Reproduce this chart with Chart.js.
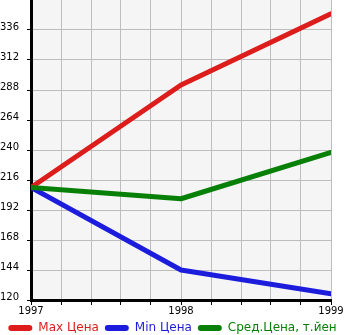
<!DOCTYPE html>
<html>
<head>
<meta charset="utf-8">
<title>Цены</title>
<script src="https://cdn.jsdelivr.net/npm/chart.js@4/dist/chart.umd.min.js"></script>
<style>
  html, body { margin: 0; padding: 0; background: #fff; overflow: hidden; }
  canvas { display: block; }
</style>
</head>
<body>
<canvas id="priceChart" width="345" height="335"></canvas>
<script>
// years on the x axis and price series (тыс. йен)
const years = [1997, 1998, 1999];
const maxPrice = [210, 292, 349];
const minPrice = [210, 144, 125];
const avgPrice = [210, 201, 238];
const seriesLabels = ["Max Цена", "Min Цена", "Сред.Цена, т.йен"];
const seriesColors = ["#dd1c1c", "#1c1cdd", "#088008"];

const yMin = 120, yMax = 360, yStep = 24;

function points(values) {
  return years.map((y, i) => ({ x: y, y: values[i] }));
}

// grey plot background
const plotBg = {
  id: "plotBg",
  beforeDraw(chart) {
    const a = chart.chartArea, ctx = chart.ctx;
    ctx.save();
    ctx.fillStyle = "#f5f5f5";
    ctx.fillRect(a.left, a.top, a.right - a.left, a.bottom - a.top);
    ctx.restore();
  }
};

const font = { family: "'DejaVu Sans', sans-serif", size: 10 };

function lineSet(i, values, order) {
  return {
    label: seriesLabels[i],
    data: points(values),
    borderColor: seriesColors[i],
    backgroundColor: seriesColors[i],
    borderWidth: 5,
    borderCapStyle: "round",
    borderJoinStyle: "round",
    pointRadius: 0,
    tension: 0,
    fill: false,
    order: order
  };
}

new Chart(document.getElementById("priceChart"), {
  type: "line",
  data: {
    datasets: [
      lineSet(0, maxPrice, 2),
      lineSet(1, minPrice, 1),
      lineSet(2, avgPrice, 0)
    ]
  },
  options: {
    responsive: false,
    animation: false,
    layout: { padding: { left: 0, top: 0, right: 0, bottom: -9 } },
    scales: {
      x: {
        type: "linear",
        min: years[0],
        max: years[years.length - 1],
        afterBuildTicks(scale) {
          // ten grid steps between the first and last year
          const t = [];
          for (let k = 0; k <= 10; k++) t.push({ value: years[0] + k * (years[years.length - 1] - years[0]) / 10 });
          scale.ticks = t;
        },
        ticks: {
          font: font,
          color: "#000",
          padding: 0,
          maxRotation: 0,
          autoSkip: false,
          callback(v) {
            const r = Math.round(v);
            return Math.abs(v - r) < 1e-6 ? String(r) : "";
          }
        },
        grid: { color: "#bdbdbd", lineWidth: 1, tickLength: 5, tickColor: "#000" },
        border: { color: "#000", width: 3 },
        afterFit(scale) {
          scale.height = 16;
          scale.paddingLeft = 0;
          scale.paddingRight = 14;
        }
      },
      y: {
        min: yMin,
        max: yMax,
        ticks: {
          stepSize: yStep,
          font: font,
          color: "#000",
          crossAlign: "far",
          labelOffset: -3,
          callback(v) { return v >= yMax ? null : String(v); }
        },
        grid: { color: "#bdbdbd", lineWidth: 1, tickLength: 4, tickColor: "#000" },
        border: { color: "#000", width: 3 },
        afterFit(scale) {
          scale.width = 31;
          scale.paddingTop = 0;
          scale.paddingBottom = 0;
        }
      }
    },
    plugins: {
      tooltip: { enabled: false },
      legend: {
        position: "bottom",
        labels: {
          boxWidth: 24,
          boxHeight: 6,
          padding: 6,
          useBorderRadius: true,
          font: { family: "'DejaVu Sans', sans-serif", size: 12 },
          generateLabels(chart) {
            return chart.data.datasets.map((ds, i) => ({
              text: ds.label,
              fillStyle: ds.borderColor,
              strokeStyle: ds.borderColor,
              fontColor: ds.borderColor,
              lineWidth: 0,
              borderRadius: 3,
              hidden: false,
              datasetIndex: i
            }));
          }
        }
      }
    }
  },
  plugins: [plotBg]
});
</script>
</body>
</html>
